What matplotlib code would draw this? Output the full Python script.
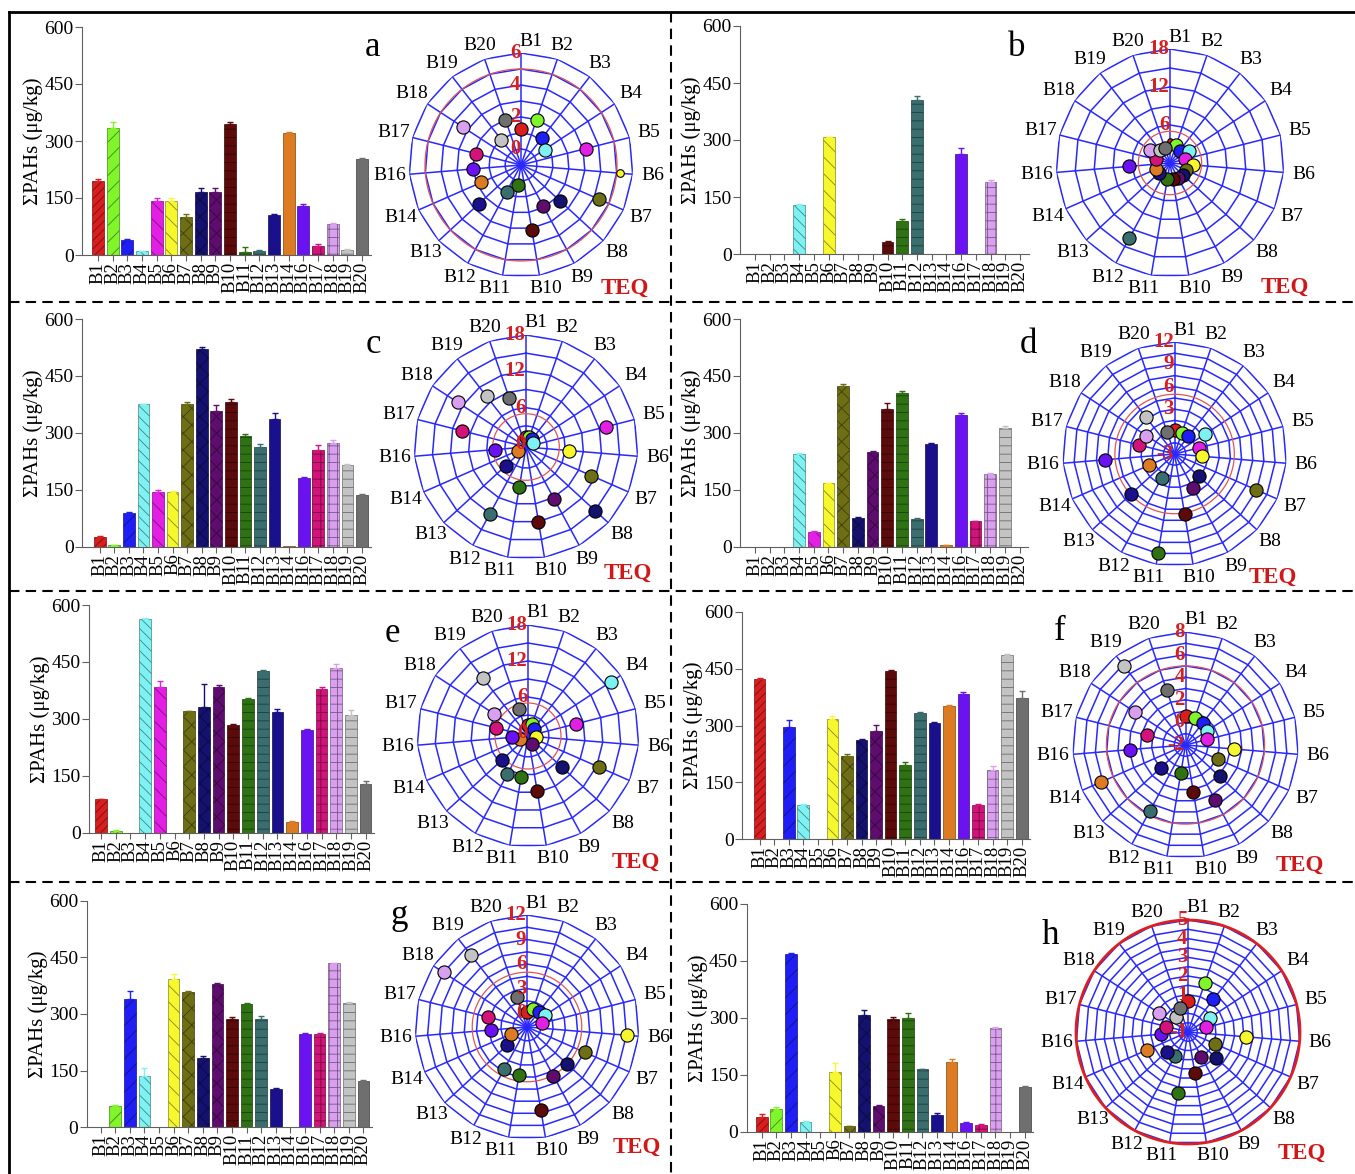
import numpy as np
import matplotlib.pyplot as plt
from matplotlib.lines import Line2D
from matplotlib.colors import to_rgb

W, H = 1355, 1174
plt.rcParams['font.family'] = ['Liberation Serif', 'DejaVu Serif']
plt.rcParams['hatch.linewidth'] = 0.6

sites = ['B1', 'B2', 'B3', 'B4', 'B5', 'B6', 'B7', 'B8', 'B9', 'B10',
         'B11', 'B12', 'B13', 'B14', 'B16', 'B17', 'B18', 'B19', 'B20']
colors = ['#d81e1e', '#7ff52a', '#1f1ff5', '#7ef2f2', '#e21fe2', '#f7f72e',
          '#6e6e14', '#14126e', '#5e0d6e', '#5c0a0a', '#2e7214', '#3a6d6d',
          '#1a108c', '#dd7b22', '#6a12f2', '#d3127a', '#d8a0ee', '#c3c3c3', '#6f6f6f']
hatches = ['////', '//', '//', '\\\\\\', '\\\\', '\\\\', 'xx', 'xx', 'xx', '--',
           '--', '--', '', '', '', '++', '++', '--', '']
dark = [tuple(np.array(to_rgb(c)) * 0.55) for c in colors]

# sum of PAHs (ug/kg) per panel
bars_a = [195, 333, 39, 10, 143, 143, 101, 166, 166, 345, 8, 11, 105, 322, 128, 24, 81, 14, 252]
err_a = [5, 18, 2, 1, 6, 6, 8, 10, 10, 5, 12, 2, 3, 3, 5, 4, 2, 2, 3]
bars_b = [0, 0, 0, 130, 0, 307, 0, 0, 0, 31, 87, 406, 0, 0, 264, 0, 190, 0, 0]
err_b = [0, 0, 0, 2, 0, 2, 0, 0, 0, 3, 4, 10, 0, 0, 16, 0, 4, 0, 0]
bars_c = [25, 4, 90, 375, 143, 143, 377, 522, 358, 380, 293, 263, 337, 1, 181, 255, 272, 215, 136]
err_c = [4, 1, 2, 1, 7, 5, 3, 5, 15, 8, 3, 8, 14, 0, 3, 12, 8, 4, 4]
bars_d = [0, 0, 0, 243, 40, 167, 423, 76, 249, 362, 404, 73, 271, 4, 346, 68, 192, 314, 0]
err_d = [0, 0, 0, 3, 1, 1, 6, 3, 3, 17, 6, 2, 3, 1, 5, 1, 2, 5, 0]
bars_e = [88, 5, 0, 564, 383, 0, 320, 330, 385, 283, 352, 425, 317, 27, 271, 379, 434, 309, 128]
err_e = [1, 3, 0, 1, 17, 0, 2, 62, 3, 4, 3, 4, 10, 4, 3, 6, 10, 14, 8]
bars_f = [422, 0, 295, 90, 0, 316, 220, 262, 285, 444, 196, 332, 307, 352, 384, 90, 184, 487, 373]
err_f = [2, 0, 20, 2, 0, 10, 6, 3, 17, 3, 8, 3, 2, 2, 3, 2, 10, 1, 18]
bars_g = [0, 57, 339, 137, 0, 393, 359, 183, 379, 287, 326, 286, 101, 0, 248, 246, 435, 329, 122]
err_g = [0, 2, 23, 20, 0, 12, 3, 5, 3, 5, 2, 8, 3, 0, 1, 4, 1, 3, 4]
bars_h = [40, 61, 468, 25, 0, 156, 15, 308, 69, 296, 300, 164, 44, 183, 22, 18, 274, 0, 117]
err_h = [7, 3, 3, 3, 0, 26, 1, 13, 2, 7, 14, 1, 4, 9, 3, 3, 1, 0, 4]

# TEQ per panel
teq_a = [1.23, 2.0, 1.1, 0.76, 3.2, 5.2, 4.3, 2.3, 1.9, 3.1, 0.25, 0.9, 2.6, 1.7, 2.0, 1.9, 3.3, 1.0, 2.0]
teq_b = [3.4, 3.0, 2.5, 3.6, 2.5, 3.6, 2.7, 2.7, 2.7, 2.5, 2.5, 13.5, 2.4, 2.5, 6.5, 2.3, 3.7, 2.6, 2.5]
teq_c = [1.2, 1.2, 1.2, 0.8, 13.1, 6.6, 11.3, 15.0, 9.2, 12.0, 6.2, 12.0, 4.1, 1.0, 4.6, 10.4, 13.0, 10.1, 8.1]
teq_d = [0.2, -0.05, 0.0, 1.8, 0.35, 0.7, 8.9, 1.4, 2.15, 5.2, 10.4, 0.6, 5.0, 0.7, 6.4, 1.9, 1.5, 3.3, 0.1]
teq_e = [1.3, 1.6, 1.05, 16.1, 7.8, 0.9, 12.4, 7.2, 0.95, 8.8, 6.4, 6.75, 5.5, 0.9, 2.2, 5.0, 6.3, 11.7, 4.3]
teq_f = [0.56, 0.56, 0.5, 0.3, 0.0, 2.3, 1.15, 2.1, 3.5, 2.2, 0.55, 4.65, 0.95, 6.2, 2.9, 1.5, 3.3, 6.9, 3.15]
teq_g = [0.1, 0.6, 0.6, 1.0, 0.17, 10.6, 6.0, 5.0, 5.05, 8.6, 4.3, 4.2, 1.6, 0.39, 2.66, 3.2, 10.5, 9.4, 2.2]
teq_h = [0.68, 1.78, 1.22, 0.39, 0.02, 2.1, 0.58, 1.06, 0.5, 1.2, 2.33, 0.47, 0.56, 1.37, 0.44, 0.2, 0.85, 0.01, 0.38]

blue = '#2828ff'
red = '#d42020'

fig = plt.figure(figsize=(W / 100, H / 100), dpi=100)


def px_rect(x0, y0, x1, y1):
    return [x0 / W, 1 - y1 / H, (x1 - x0) / W, (y1 - y0) / H]


def bar_panel(vals, errs, xaxis, xb1, xb20, y0, y600):
    s = (xb20 - xb1) / 18
    ax = fig.add_axes(px_rect(xaxis, y600, xb1 + 18.6 * s, y0))
    x = np.arange(19)
    for i in x:
        if vals[i] <= 0:
            continue
        ax.bar(i, vals[i], 0.8, color=colors[i], edgecolor=dark[i],
               hatch=hatches[i], lw=0.5, zorder=2)
        if errs[i] > 0:
            ax.errorbar(i, vals[i], yerr=[[0], [errs[i]]], fmt='none',
                        ecolor=colors[i], elinewidth=1, capsize=2, capthick=1, zorder=3)
    ax.set_xlim(-(xb1 - xaxis) / s, 18.6)
    ax.set_ylim(0, 600)
    ax.set_yticks([0, 150, 300, 450, 600])
    ax.set_xticks(x)
    ax.set_xticklabels(sites, rotation=90, fontsize=13.5)
    for sp in ['top', 'right']:
        ax.spines[sp].set_visible(False)
    for sp in ['left', 'bottom']:
        ax.spines[sp].set_color('#606060')
    ax.tick_params(axis='y', labelsize=14, length=5, color='#606060', pad=1)
    ax.tick_params(axis='x', length=4, color='#606060', pad=1)
    ax.set_ylabel('ΣPAHs (μg/kg)', fontsize=15, labelpad=1)
    ax.patch.set_visible(False)


# small sideways nudges (pixels) for crowded category labels
label_nudge = {0: 10, 9: 4, 10: -6}


def polar_panel(vals, cx, cy, R, rmin, rmax, step, tlabels, letter, lpos, teqpos,
                small=None, redlw=0.9):
    ax = fig.add_axes(px_rect(cx - R, cy - R, cx + R, cy + R), projection='polar')
    ax.set_theta_zero_location('N')
    ax.set_theta_direction(-1)
    ax.set_ylim(rmin, rmax)
    ax.set_xticks([])
    ax.set_yticks([])
    ax.grid(False)
    ax.spines['polar'].set_visible(False)
    ax.patch.set_visible(False)
    th = np.arange(19) * 2 * np.pi / 19
    thc = np.append(th, th[0])
    k0 = np.ceil((rmin + 1e-9) / step)
    for r in np.arange(k0 * step, rmax + step / 2, step):
        ax.plot(thc, np.full(20, r), color=blue, lw=1.1, zorder=1)
    for t in th:
        ax.plot([t, t], [rmin, rmax], color=blue, lw=1.1, zorder=1)
    circ = np.linspace(0, 2 * np.pi, 400)
    ax.plot(circ, np.full(400, 5.0), color='#e05555' if redlw < 1.5 else '#dd1f1f',
            lw=redlw, zorder=2, clip_on=False)
    for i in range(19):
        ms = 9.5
        if small and i in small:
            ms = small[i]
        ax.plot(th[i], vals[i], 'o', ms=ms, mfc=colors[i], mec='k', mew=0.8,
                zorder=3, clip_on=False)
    units = (rmax - rmin) / R
    for i, t in enumerate(th):
        off = 12 + 8 * abs(np.sin(t))
        dx = label_nudge.get(i, 0) * 0.72
        ax.annotate(sites[i], (t, rmax + off * units), xytext=(dx, 0),
                    textcoords='offset points', ha='center', va='center',
                    fontsize=14, annotation_clip=False)
    for v in tlabels:
        ax.annotate(str(v), (0, v), xytext=(-0.5, 0), textcoords='offset points',
                    ha='right', va='center', color=red, fontweight='bold',
                    fontsize=15, zorder=4)
    fig.text(teqpos[0] / W, 1 - teqpos[1] / H, 'TEQ', color='#d01818',
             fontweight='bold', fontsize=16.5, ha='center', va='center')
    fig.text(lpos[0] / W, 1 - lpos[1] / H, letter, fontsize=25, ha='center', va='center')


bar_panel(bars_a, err_a, 82, 98, 362, 255, 27)
bar_panel(bars_b, err_b, 740, 755, 1020, 254, 26)
bar_panel(bars_c, err_c, 82, 99.7, 362, 546.7, 319)
bar_panel(bars_d, err_d, 740, 755, 1019.5, 546.7, 319)
bar_panel(bars_e, err_e, 89, 101, 365.6, 832.7, 605)
bar_panel(bars_f, err_f, 742, 759.6, 1021.7, 839.3, 611.7)
bar_panel(bars_g, err_g, 86.7, 100.6, 363.4, 1127.3, 900.7)
bar_panel(bars_h, err_h, 746.5, 761.7, 1024.7, 1131.7, 904)

polar_panel(teq_a, 521, 165, 112, -1, 6, 1, [0, 2, 4, 6], 'a', (373, 48), (625, 288),
            small={5: 5.5})
polar_panel(teq_b, 1170, 163, 114, 0, 18, 3, [6, 12, 18], 'b', (1017, 48), (1285, 287),
            small={0: 4})
polar_panel(teq_c, 526, 447, 112, -0.5, 18, 3, [0, 6, 12, 18], 'c', (373, 345), (628, 573))
polar_panel(teq_d, 1174.6, 454, 112, -3, 12, 1.5, [-3, 3, 6, 9, 12], 'd', (1028, 345), (1273, 577))
polar_panel(teq_e, 528, 736, 111, -0.5, 18, 3, [0, 6, 12, 18], 'e', (392, 633), (636, 862))
polar_panel(teq_f, 1185.5, 745, 113, -2, 8, 1, [-2, 0, 2, 4, 6, 8], 'f', (1060, 631), (1300, 865))
polar_panel(teq_g, 527, 1027, 112, -1.7, 12, 1.5, [0, 3, 6, 9, 12], 'g', (399, 916), (637, 1147))
polar_panel(teq_h, 1188, 1032, 112, -1, 5, 0.5, [-1, 1, 2, 3, 4, 5], 'h', (1050, 935), (1302, 1153),
            redlw=2.0)


# frame and panel separators
def fig_line(x0, y0, x1, y1, **kw):
    fig.add_artist(Line2D([x0 / W, x1 / W], [1 - y0 / H, 1 - y1 / H], **kw))


fig_line(8.5, 12, 1355, 12, color='k', lw=2)
fig_line(8.5, 12, 8.5, 1174, color='k', lw=2)
fig_line(671, 12, 671, 1174, color='k', lw=1.5, ls=(0, (5, 3)))
for yy in [302, 591, 882]:
    fig_line(8.5, yy, 1355, yy, color='k', lw=1.5, ls=(0, (5, 3)))

fig.savefig('out.png', dpi=100)
